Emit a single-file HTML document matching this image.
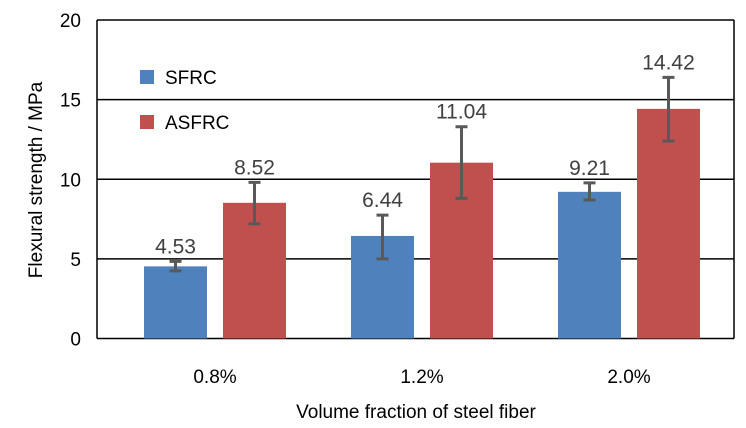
<!DOCTYPE html>
<html><head><meta charset="utf-8"><style>
html,body{margin:0;padding:0;background:#fff;}
svg{display:block;font-family:"Liberation Sans",sans-serif;}
</style></head><body>
<svg id="chart" width="746" height="428"></svg>
<script>
const categories=["0.8%","1.2%","2.0%"];
const sfrc=[4.53,6.44,9.21];
const asfrc=[8.52,11.04,14.42];
const sfrcLow=[4.25,5.0,8.7];
const sfrcHigh=[4.84,7.75,9.77];
const asfrcLow=[7.2,8.8,12.4];
const asfrcHigh=[9.8,13.3,16.4];
const yTicks=[0,5,10,15,20];

const NS="http://www.w3.org/2000/svg";
const svg=document.getElementById('chart');
const L=97,R=734,T=20,B=338.5,yMax=20;
const y=v=>B-(B-T)*v/yMax;
const groupW=207;
const cx=i=>L+118+groupW*i;
function mk(tag,attrs,parent){const e=document.createElementNS(NS,tag);for(const k in attrs)e.setAttribute(k,attrs[k]);(parent||svg).appendChild(e);return e;}

yTicks.forEach(t=>{
  if(t>0){const g=mk('line',{x1:L,x2:R,y1:y(t),y2:y(t),stroke:'#000','stroke-width':1.5});
  
  }
  const lb=mk('text',{x:L-16,y:y(t)+7,'text-anchor':'end','font-size':19,fill:'#000'});
  lb.textContent=t;
  
  
});
const ax=mk('line',{x1:L,x2:L,y1:T,y2:B,stroke:'#000','stroke-width':1.5});


const rx=mk('line',{x1:R,x2:R,y1:T,y2:B,stroke:'#000','stroke-width':1.5});


const xa=mk('line',{x1:L,x2:R,y1:B,y2:B,stroke:'#000','stroke-width':1.5});



const bw=63;
function bar(v,lo,hi,x0,color,name){
  const r=mk('rect',{x:x0,y:y(v),width:bw,height:B-y(v),fill:color});
  
  
  const xc=x0+bw/2;
  const e=mk('path',{d:`M${xc},${y(hi)}V${y(lo)}M${xc-6},${y(hi)}H${xc+6}M${xc-6},${y(lo)}H${xc+6}`,stroke:'#595959','stroke-width':3,fill:'none'});
  
  
  const t=mk('text',{x:xc,y:y(hi)-8,'text-anchor':'middle','font-size':21,fill:'#404040'});
  t.textContent=v.toFixed(2);
  
  
}
categories.forEach((c,i)=>{
  const center=cx(i);
  bar(sfrc[i],sfrcLow[i],sfrcHigh[i],center-bw-8,'#4f81bd','bar-sfrc-'+i);
  bar(asfrc[i],asfrcLow[i],asfrcHigh[i],center+8,'#c0504d','bar-asfrc-'+i);
  const t=mk('text',{x:center,y:383,'text-anchor':'middle','font-size':19,fill:'#000'});
  t.textContent=c;
  
  
});

const lg=[["SFRC","#4f81bd",77],["ASFRC","#c0504d",122]];
lg.forEach(([n,c,yy])=>{
  const s=mk('rect',{x:140,y:yy-7,width:14,height:14,fill:c});
  
  
  const t=mk('text',{x:165,y:yy+7,'font-size':19,fill:'#000'});
  t.textContent=n;
  
  
});

const xt=mk('text',{x:416,y:418,'text-anchor':'middle','font-size':19,fill:'#000'});
xt.textContent="Volume fraction of steel fiber";


const yt=mk('text',{x:0,y:0,'text-anchor':'middle','font-size':19,fill:'#000',transform:'translate(42,180) rotate(-90)'});
yt.textContent="Flexural strength / MPa";


</script>
</body></html>
